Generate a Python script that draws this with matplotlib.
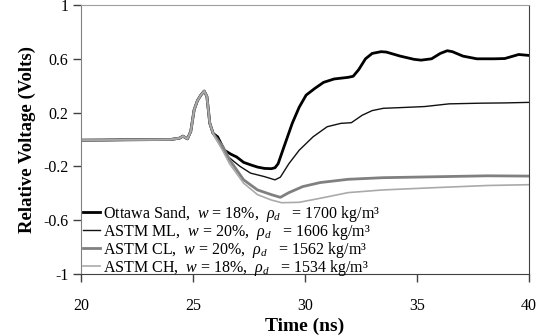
import numpy as np
import matplotlib
matplotlib.use("Agg")
import matplotlib.pyplot as plt

plt.rcParams['font.family'] = ['Liberation Serif', 'DejaVu Serif']
plt.rcParams['mathtext.fontset'] = 'custom'
plt.rcParams['mathtext.rm'] = 'Liberation Serif'
plt.rcParams['mathtext.it'] = 'Liberation Serif:italic'
plt.rcParams['axes.unicode_minus'] = False

# shared front part of all four traces (before they split)
t_common = [20, 21, 22, 23, 24, 24.4, 24.55, 24.75, 24.9, 25.05, 25.2, 25.35, 25.5, 25.62, 25.75, 25.9]
v_common = [-0.005, -0.004, -0.002, -0.001, 0.0, 0.01, 0.025, 0.005, 0.06, 0.22, 0.29, 0.33, 0.36, 0.32, 0.12, 0.045]

# Ottawa Sand
t_ott = [26.1, 26.4, 26.7, 26.95, 27.26, 27.6, 27.88, 28.19, 28.5, 28.66, 28.8, 29.05, 29.43, 29.74,
         30.05, 30.44, 30.83, 31.3, 31.92, 32.15, 32.4, 32.7, 33.0, 33.4, 33.63, 34.25, 34.87, 35.18,
         35.65, 36.04, 36.35, 36.58, 37.05, 37.67, 38.45, 38.92, 39.54, 40]
v_ott = [0.02, -0.08, -0.11, -0.13, -0.17, -0.19, -0.205, -0.215, -0.217, -0.21, -0.18, -0.06, 0.12, 0.24,
         0.33, 0.38, 0.425, 0.45, 0.462, 0.47, 0.52, 0.60, 0.64, 0.653, 0.65, 0.62, 0.596, 0.59,
         0.60, 0.64, 0.66, 0.653, 0.62, 0.60, 0.60, 0.602, 0.632, 0.625]

# ASTM ML
t_ml = [26.1, 26.48, 26.8, 27.1, 27.57, 28.19, 28.66, 28.9, 29.28, 29.74, 30.36, 30.99, 31.6, 32.07,
        32.55, 33.0, 33.5, 34.25, 35.34, 36.43, 37.83, 38.92, 40]
v_ml = [0.01, -0.115, -0.16, -0.2, -0.25, -0.276, -0.30, -0.28, -0.18, -0.08, 0.02, 0.095, 0.12, 0.125,
        0.18, 0.215, 0.232, 0.237, 0.245, 0.265, 0.27, 0.272, 0.276]

# ASTM CL
t_cl = [26.0, 26.32, 26.63, 27.26, 27.88, 28.5, 28.9, 29.28, 29.9, 30.68, 31.92, 33.47, 35.8, 38.14, 40]
v_cl = [0.02, -0.05, -0.15, -0.30, -0.375, -0.41, -0.43, -0.395, -0.35, -0.32, -0.296, -0.284, -0.277, -0.27, -0.272]

# ASTM CH
t_ch = [26.0, 26.32, 26.63, 27.26, 27.88, 28.5, 28.96, 29.74, 30.68, 31.92, 33.47, 35.8, 38.14, 40]
v_ch = [0.01, -0.08, -0.18, -0.325, -0.41, -0.45, -0.47, -0.467, -0.437, -0.395, -0.375, -0.358, -0.342, -0.336]

labels = [r"Ottawa Sand,  $w$ = 18%,  $\rho_d$   = 1700 kg/m³",
          r"ASTM ML,  $w$ = 20%,  $\rho_d$   = 1606 kg/m³",
          r"ASTM CL,  $w$ = 20%,  $\rho_d$   = 1562 kg/m³",
          r"ASTM CH,  $w$ = 18%,  $\rho_d$   = 1534 kg/m³"]

fig = plt.figure(figsize=(5.45, 3.36), dpi=100)
ax = fig.add_axes([81 / 545, 1 - 274 / 336, 448 / 545, 269 / 336])

series = [(t_ott, v_ott, '#000000', 2.0),
          (t_ml, v_ml, '#111111', 1.0),
          (t_cl, v_cl, '#808080', 2.0),
          (t_ch, v_ch, '#aaaaaa', 1.2)]
for (t, v, col, lw), lab in zip(series, labels):
    ax.plot(t_common + t, v_common + v, color=col, lw=lw, label=lab)

ax.set_xlim(20, 40)
ax.set_ylim(-1, 1)
ax.set_xticks([20, 25, 30, 35, 40])
ax.set_yticks([-1, -0.6, -0.2, 0.2, 0.6, 1])
ax.set_yticklabels(['-1', '-0.6', '-0.2', '0.2', '0.6', '1'])
ax.tick_params(direction='out', length=6, width=1, labelsize=11.5, color='#404040', pad=3)
ax.tick_params(axis='x', pad=11)

ax.spines['top'].set_color('#a0a0a0')
ax.spines['left'].set_color('#808080')
ax.spines['right'].set_color('#404040')
ax.spines['bottom'].set_color('#404040')

ax.set_xlabel('Time (ns)', fontsize=14, fontweight='bold', labelpad=3)
ax.set_ylabel('Relative Voltage (Volts)', fontsize=13.5, fontweight='bold', labelpad=5)

ax.legend(loc='lower left', bbox_to_anchor=(0.0, -0.02), frameon=False, fontsize=11.5,
          handlelength=1.1, handletextpad=0.2, labelspacing=-0.12, borderaxespad=0.0, borderpad=0.1)

fig.savefig('out.png', dpi=100)
